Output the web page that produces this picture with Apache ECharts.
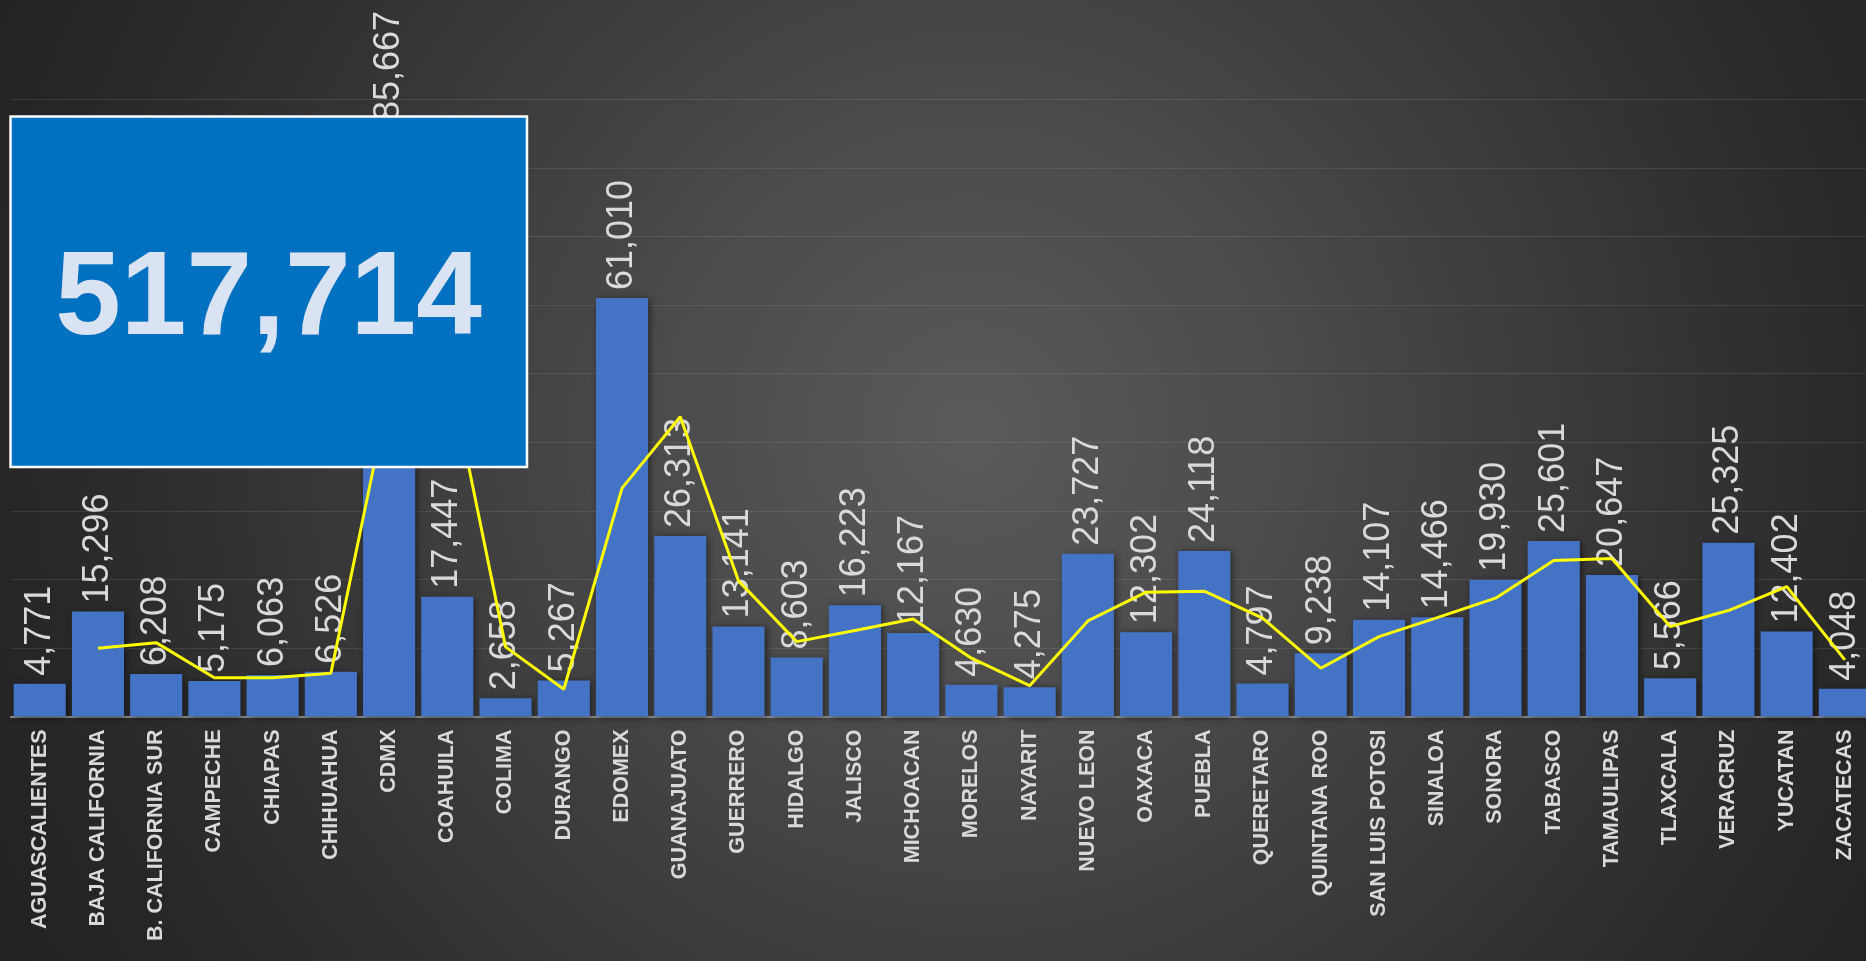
<!DOCTYPE html>
<html>
<head>
<meta charset="utf-8">
<script src="https://cdn.jsdelivr.net/npm/echarts@6/dist/echarts.min.js"></script>
<style>
html,body{margin:0;padding:0;width:1866px;height:961px;overflow:hidden;}
body{background:radial-gradient(circle farthest-corner at 52% 45%, #5a5a5a 0%, #4a4a4a 30%, #363636 60%, #272727 85%, #222222 100%);}
#chart{width:1866px;height:961px;}
</style>
</head>
<body>
<div id="chart"></div>
<script>
const categories = ['AGUASCALIENTES','BAJA CALIFORNIA','B. CALIFORNIA SUR','CAMPECHE','CHIAPAS','CHIHUAHUA','CDMX','COAHUILA','COLIMA','DURANGO','EDOMEX','GUANAJUATO','GUERRERO','HIDALGO','JALISCO','MICHOACAN','MORELOS','NAYARIT','NUEVO LEON','OAXACA','PUEBLA','QUERETARO','QUINTANA ROO','SAN LUIS POTOSI','SINALOA','SONORA','TABASCO','TAMAULIPAS','TLAXCALA','VERACRUZ','YUCATAN','ZACATECAS'];
const barValues = [4771,15296,6208,5175,6063,6526,85667,17447,2658,5267,61010,26313,13141,8603,16223,12167,4630,4275,23727,12302,24118,4797,9238,14107,14466,19930,25601,20647,5566,25325,12402,4048];
const lineValues = [null,9950,10770,5660,5660,6300,47200,51700,10150,3970,33300,43700,19780,10920,12530,14230,8500,4500,13940,18130,18280,14340,7040,11650,14420,17260,22750,23040,13110,15450,18950,8250];
const yTicks = {min:0, max:90000, interval:10000};

const total = barValues.reduce((a,b)=>a+b,0);
const fmt = v => v.toLocaleString('en-US');
const sans = "'Liberation Sans', Arial, sans-serif";

const chart = echarts.init(document.getElementById('chart'), null, {renderer:'canvas'});
chart.setOption({
  backgroundColor:'transparent',
  animation:false,
  grid:{left:10.6, top:99.3, width:1863.4, bottom:244.5, containLabel:false, outerBoundsMode:'none'},
  xAxis:{
    type:'category', data:categories,
    axisLine:{show:true, lineStyle:{color:'#a9a9a9', width:1.5}},
    axisTick:{show:false},
    axisLabel:{interval:0, rotate:90, margin:13, color:'#d9d9d9', fontFamily:sans, fontWeight:'bold', fontSize:21.5}
  },
  yAxis:{
    type:'value', min:yTicks.min, max:yTicks.max, interval:yTicks.interval,
    axisLine:{show:false}, axisTick:{show:false}, axisLabel:{show:false},
    splitLine:{show:true, lineStyle:{color:'rgba(255,255,255,0.09)', width:1.2}}
  },
  series:[
    {
      type:'bar', data:barValues, barCategoryGap:'10.5%', z:2,
      itemStyle:{color:'#4472C4', shadowBlur:7, shadowColor:'rgba(0,0,0,0.55)', shadowOffsetX:2, shadowOffsetY:1},
      label:{show:true, position:'top', distance:8, rotate:90, align:'left', verticalAlign:'middle',
        color:'#d9d9d9', fontFamily:sans, fontSize:36, fontWeight:'normal',
        formatter:p=>fmt(p.value)}
    },
    {
      type:'line', data:lineValues, z:5, symbol:'none', connectNulls:false,
      lineStyle:{color:'#ffff00', width:3}
    }
  ],
  graphic:[
    {type:'rect', z:100, shape:{x:10.5, y:116.5, width:516.5, height:350.5},
     style:{fill:'#0070C0', stroke:'#ffffff', lineWidth:2.5}},
    {type:'text', z:101, x:268.5, y:301, style:{text:fmt(total), fill:'#dae3f3',
      font:"bold 118px 'Liberation Sans', Arial, sans-serif", textAlign:'center', textVerticalAlign:'middle'}}
  ]
});
</script>
</body>
</html>
